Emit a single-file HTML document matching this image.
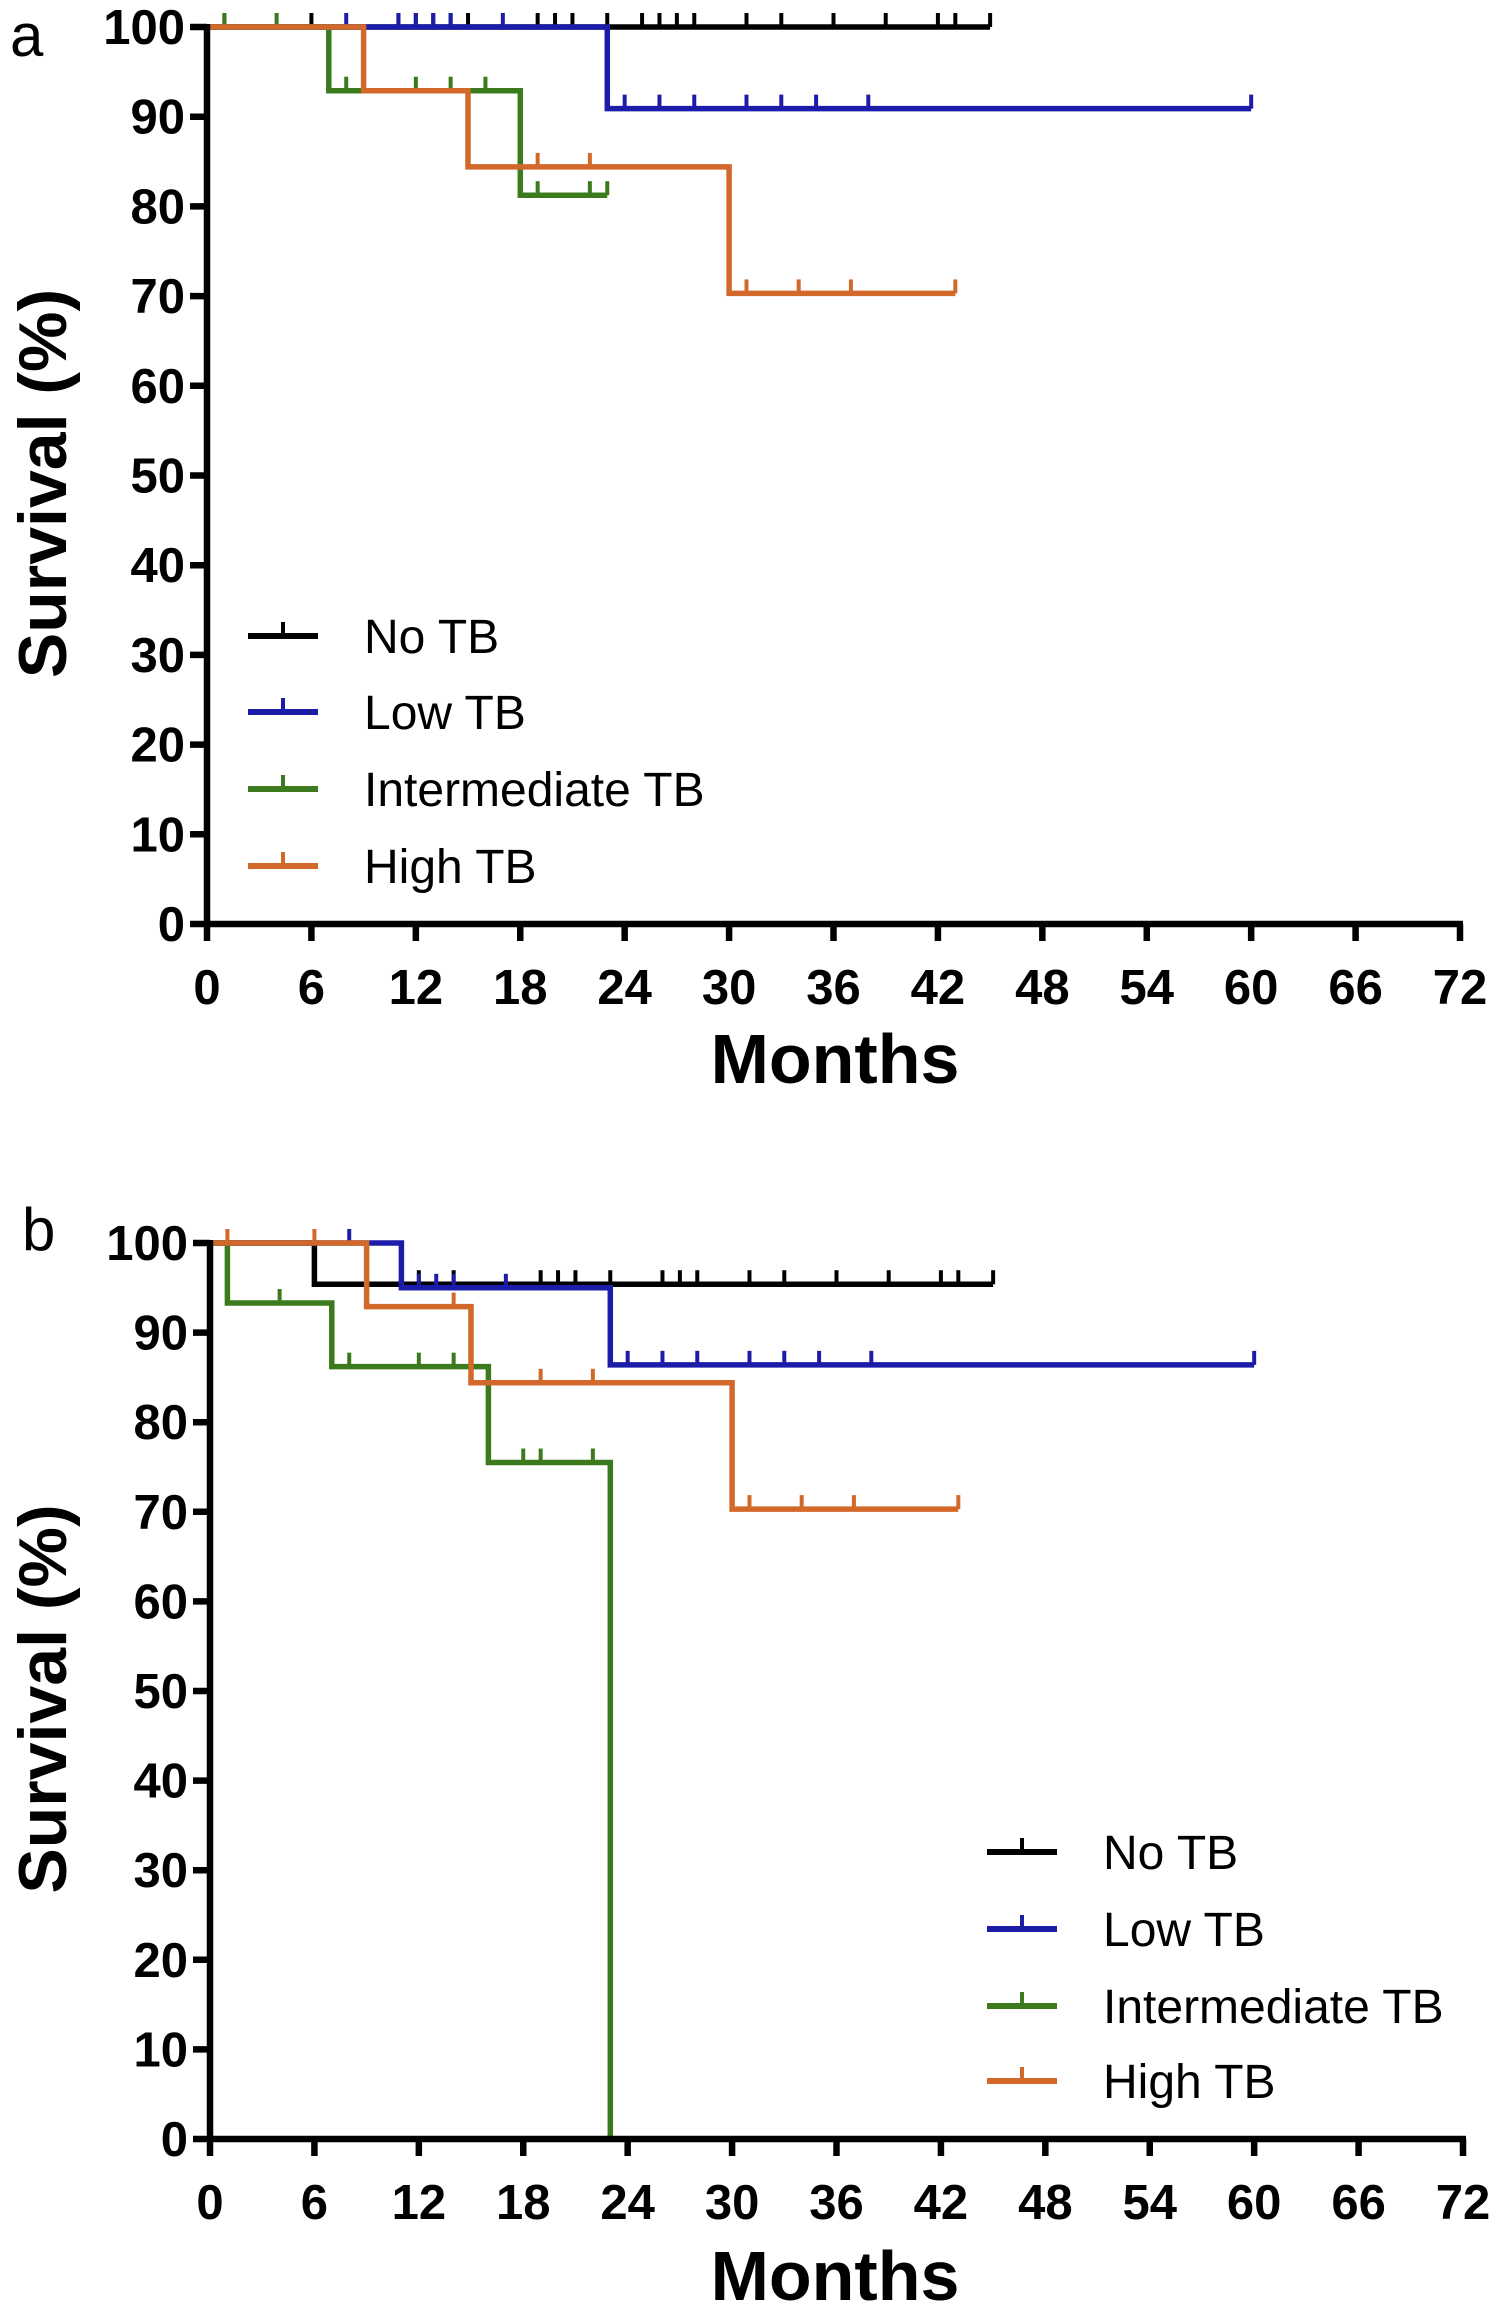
<!DOCTYPE html>
<html><head><meta charset="utf-8">
<style>
html,body{margin:0;padding:0;background:#fff;}
svg{display:block;font-family:"Liberation Sans",Arial,sans-serif;}
</style></head>
<body>
<svg id="chart" width="1508" height="2322" viewBox="0 0 1508 2322" xmlns="http://www.w3.org/2000/svg"></svg>
<script>
const seriesNames = ["No TB","Low TB","Intermediate TB","High TB"];
const seriesColors = ["#000000","#1c1ca8","#3c7a1e","#d2692a"];
const xTicks = [0,6,12,18,24,30,36,42,48,54,60,66,72];
const yTicks = [0,10,20,30,40,50,60,70,80,90,100];

// Panel a: step points [month, survival], censor marks [month, survival]
const aNoSteps = [[0,100],[45,100]];
const aNoCens = [[1,100],[6,100],[11,100],[12,100],[13,100],[14,100],[15,100],[19,100],[20,100],[21,100],[23,100],[25,100],[26,100],[27,100],[28,100],[31,100],[33,100],[36,100],[39,100],[42,100],[43,100],[45,100]];
const aLowSteps = [[0,100],[23,100],[23,90.9],[60,90.9]];
const aLowCens = [[8,100],[11,100],[12,100],[13,100],[14,100],[17,100],[24,90.9],[26,90.9],[28,90.9],[31,90.9],[33,90.9],[35,90.9],[38,90.9],[60,90.9]];
const aIntSteps = [[0,100],[7,100],[7,92.9],[18,92.9],[18,81.25],[23,81.25]];
const aIntCens = [[1,100],[4,100],[8,92.9],[12,92.9],[14,92.9],[16,92.9],[19,81.25],[22,81.25],[23,81.25]];
const aHighSteps = [[0,100],[9,100],[9,92.9],[15,92.9],[15,84.4],[30,84.4],[30,70.3],[43,70.3]];
const aHighCens = [[19,84.4],[22,84.4],[31,70.3],[34,70.3],[37,70.3],[43,70.3]];

// Panel b
const bNoSteps = [[0,100],[6,100],[6,95.4],[45,95.4]];
const bNoCens = [[12,95.4],[14,95.4],[19,95.4],[20,95.4],[21,95.4],[23,95.4],[26,95.4],[27,95.4],[28,95.4],[31,95.4],[33,95.4],[36,95.4],[39,95.4],[42,95.4],[43,95.4],[45,95.4]];
const bLowSteps = [[0,100],[11,100],[11,95],[23,95],[23,86.4],[60,86.4]];
const bLowCens = [[8,100],[12,95],[13,95],[14,95],[17,95],[24,86.4],[26,86.4],[28,86.4],[31,86.4],[33,86.4],[35,86.4],[38,86.4],[60,86.4]];
const bIntSteps = [[0,100],[1,100],[1,93.3],[7,93.3],[7,86.2],[16,86.2],[16,75.5],[23,75.5],[23,0]];
const bIntCens = [[4,93.3],[8,86.2],[12,86.2],[14,86.2],[18,75.5],[19,75.5],[22,75.5]];
const bHighSteps = [[0,100],[9,100],[9,92.9],[15,92.9],[15,84.4],[30,84.4],[30,70.3],[43,70.3]];
const bHighCens = [[1,100],[6,100],[14,92.9],[19,84.4],[22,84.4],[31,70.3],[34,70.3],[37,70.3],[43,70.3]];

const NS="http://www.w3.org/2000/svg";
const svg=document.getElementById('chart');
function el(tag,attrs,parent){const e=document.createElementNS(NS,tag);for(const k in attrs)e.setAttribute(k,attrs[k]);(parent||svg).appendChild(e);return e;}

function panel(cfg){
  const g=el('g',{});
  
  
  const xs=v=>cfg.x0+(cfg.x1-cfg.x0)*v/72;
  const ys=v=>cfg.y0-(cfg.y0-cfg.y100)*v/100;
  const lbl=el('text',{x:cfg.lx,y:cfg.ly,'font-size':60,fill:'#000'},g);lbl.textContent=cfg.id;
  
  
  cfg.series.forEach((s,i)=>{
    const sg=el('g',{},g);
    
    
    const d=s.steps.map((p,j)=>(j?'L':'M')+xs(p[0]).toFixed(1)+' '+ys(p[1]).toFixed(1)).join(' ');
    const path=el('path',{d:d,fill:'none',stroke:seriesColors[i],'stroke-width':5.5},sg);
    
    
    s.cens.forEach(c=>{
      const t=el('line',{x1:xs(c[0]),x2:xs(c[0]),y1:ys(c[1]),y2:ys(c[1])-14,stroke:seriesColors[i],'stroke-width':4},sg);
      
      
    });
  });
  const ax=el('g',{stroke:'#000','stroke-width':6.5},g);
  
  
  el('line',{x1:cfg.x0,x2:cfg.x0,y1:ys(100)-3,y2:cfg.y0+3},ax);
  el('line',{x1:cfg.x0-3,x2:cfg.x1+3,y1:cfg.y0,y2:cfg.y0},ax);
  xTicks.forEach(t=>{
    el('line',{x1:xs(t),x2:xs(t),y1:cfg.y0,y2:cfg.y0+17},ax);
    const tx=el('text',{x:xs(t),y:cfg.y0+80,'text-anchor':'middle','font-size':49,'font-weight':'bold',fill:'#000',stroke:'none'},g);
    tx.textContent=t;
    
    
  });
  yTicks.forEach(t=>{
    el('line',{x1:cfg.x0-17,x2:cfg.x0,y1:ys(t),y2:ys(t)},ax);
    const ty=el('text',{x:cfg.x0-22,y:ys(t)+17,'text-anchor':'end','font-size':49,'font-weight':'bold',fill:'#000',stroke:'none'},g);
    ty.textContent=t;
    
    
  });
  const xt=el('text',{x:835,y:cfg.mY,'text-anchor':'middle','font-size':70,'font-weight':'bold',fill:'#000'},g);
  xt.textContent='Months';
  
  
  const ycy=(ys(100)+cfg.y0)/2+8;
  const yt=el('text',{x:0,y:0,'text-anchor':'middle','font-size':68,'font-weight':'bold',fill:'#000',transform:'translate(66,'+ycy+') rotate(-90)'},g);
  yt.textContent='Survival (%)';
  
  
  const lg=el('g',{},g);
  
  
  seriesNames.forEach((n,i)=>{
    const y=cfg.legY[i];
    const eg=el('g',{},lg);
    
    
    el('line',{x1:cfg.legX,x2:cfg.legX+70,y1:y,y2:y,stroke:seriesColors[i],'stroke-width':6},eg);
    el('line',{x1:cfg.legX+35,x2:cfg.legX+35,y1:y,y2:y-14,stroke:seriesColors[i],'stroke-width':4},eg);
    const tt=el('text',{x:cfg.legX+116,y:y+17,'font-size':48,fill:'#000'},eg);
    tt.textContent=n;
  });
}

panel({id:'a',x0:207,x1:1460,y100:27,y0:924,lx:10,ly:56,mY:1083,legX:248,legY:[636,712,789,866],
  series:[{steps:aNoSteps,cens:aNoCens},{steps:aLowSteps,cens:aLowCens},{steps:aIntSteps,cens:aIntCens},{steps:aHighSteps,cens:aHighCens}]});
panel({id:'b',x0:210,x1:1463,y100:1243,y0:2139,lx:22,ly:1250,mY:2300,legX:987,legY:[1852,1929,2006,2081],
  series:[{steps:bNoSteps,cens:bNoCens},{steps:bLowSteps,cens:bLowCens},{steps:bIntSteps,cens:bIntCens},{steps:bHighSteps,cens:bHighCens}]});
</script>
</body></html>
